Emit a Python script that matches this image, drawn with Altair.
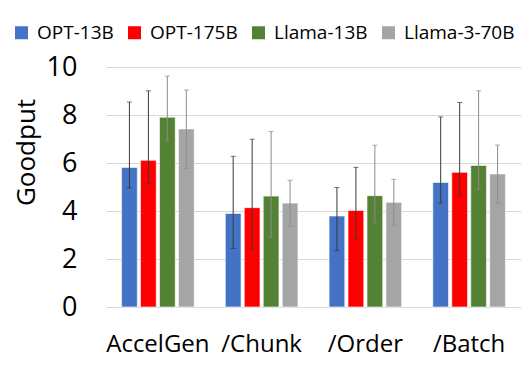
import altair as alt
import pandas as pd

groups = ["AccelGen", "/Chunk", "/Order", "/Batch"]
series = ["OPT-13B", "OPT-175B", "Llama-13B", "Llama-3-70B"]
bar_colors = ["#4472C4", "#FF0000", "#548235", "#A5A5A5"]
err_colors = ["#3a3a3a", "#3a3a3a", "#8c8c8c", "#8c8c8c"]

goodput = {
    "OPT-13B": [5.81, 3.90, 3.79, 5.19],
    "OPT-175B": [6.11, 4.14, 4.02, 5.61],
    "Llama-13B": [7.91, 4.62, 4.64, 5.90],
    "Llama-3-70B": [7.42, 4.33, 4.36, 5.54],
}
err_low = {
    "OPT-13B": [4.96, 2.44, 2.35, 4.33],
    "OPT-175B": [5.15, 2.40, 2.80, 4.64],
    "Llama-13B": [6.92, 2.90, 3.51, 4.90],
    "Llama-3-70B": [5.78, 3.37, 3.40, 4.32],
}
err_high = {
    "OPT-13B": [8.54, 6.28, 4.98, 7.92],
    "OPT-175B": [9.01, 6.99, 5.82, 8.52],
    "Llama-13B": [9.62, 7.31, 6.74, 9.01],
    "Llama-3-70B": [9.04, 5.28, 5.32, 6.75],
}
y_ticks = [0, 2, 4, 6, 8, 10]

rows = []
for s in series:
    for i, g in enumerate(groups):
        rows.append({"group": g, "series": s, "value": goodput[s][i],
                     "lo": err_low[s][i], "hi": err_high[s][i]})
df = pd.DataFrame(rows)

FONT = "Open Sans"

x_enc = alt.X("group:N", sort=groups,
              scale=alt.Scale(paddingInner=0.3, paddingOuter=0.15),
              axis=alt.Axis(title=None, labelAngle=0, labelFontSize=24, labelColor="#000000",
                            labelFont=FONT, ticks=False, domain=False, labelPadding=25))
xo_enc = alt.XOffset("series:N", sort=series,
                     scale=alt.Scale(paddingInner=0.17, paddingOuter=0))

base = alt.Chart(df)

bars = base.mark_bar(stroke="white", strokeWidth=0.6).encode(
    x=x_enc,
    xOffset=xo_enc,
    y=alt.Y("value:Q", scale=alt.Scale(domain=[0, 10], nice=False),
            axis=alt.Axis(values=y_ticks, title="Goodput", titleFontSize=26,
                          titleFont=FONT, titleFontWeight="normal", titleColor="#000000",
                          titleAngle=270, titleX=-80, titleY=85, titleAlign="center",
                          titleBaseline="middle",
                          labelFontSize=27, labelFont=FONT, labelColor="#000000",
                          labelPadding=29, ticks=False, tickSize=0, domain=False,
                          grid=True, gridColor="#d9d9d9", gridWidth=1)),
    color=alt.Color("series:N", sort=series,
                    scale=alt.Scale(domain=series, range=bar_colors),
                    legend=alt.Legend(title=None, orient="none", direction="horizontal",
                                      columns=4, legendX=-94, legendY=-44,
                                      symbolType="square", symbolSize=169,
                                      symbolStrokeWidth=0, labelFontSize=19,
                                      labelFont=FONT, labelColor="#000000",
                                      labelOffset=6, columnPadding=11, padding=0)),
)

rules = base.mark_rule(strokeWidth=1).encode(
    x=x_enc, xOffset=xo_enc,
    y=alt.Y("lo:Q"), y2="hi:Q",
    stroke=alt.Stroke("series:N", sort=series,
                      scale=alt.Scale(domain=series, range=err_colors), legend=None),
)
caps_lo = base.mark_tick(size=5, thickness=1).encode(
    x=x_enc, xOffset=xo_enc, y=alt.Y("lo:Q"),
    color=alt.Color("series:N", scale=alt.Scale(domain=series, range=err_colors), legend=None),
)
caps_hi = base.mark_tick(size=5, thickness=1).encode(
    x=x_enc, xOffset=xo_enc, y=alt.Y("hi:Q"),
    color=alt.Color("series:N", scale=alt.Scale(domain=series, range=err_colors), legend=None),
)
caps = (caps_lo + caps_hi)

chart = alt.layer(bars, rules, caps).resolve_scale(color="independent").properties(
    width=415, height=240,
    autosize=alt.AutoSizeParams(type="none"),
    padding={"left": 98, "top": 59, "right": 3, "bottom": 59},
    background="white",
).configure_view(stroke=None)

chart.save("out.html", embed_options={"renderer": "svg", "actions": False})
